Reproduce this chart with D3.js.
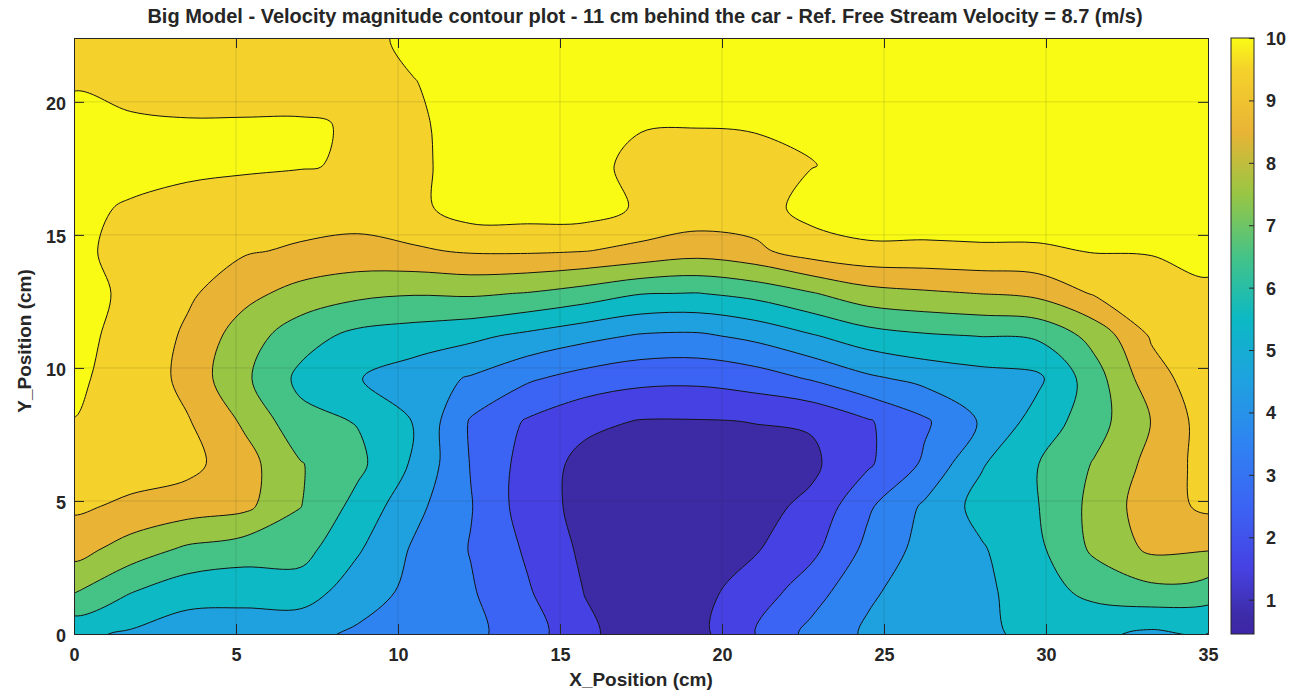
<!DOCTYPE html>
<html>
<head>
<meta charset="utf-8">
<script src="https://cdn.jsdelivr.net/npm/d3@7"></script>
<style>
  body { margin: 0; background: #ffffff; }
  text { font-family: "Liberation Sans", Arial, Helvetica, sans-serif; font-weight: bold; fill: #262626; }
</style>
</head>
<body>
<svg id="chart" width="1292" height="697"></svg>
<script>
// Measurement stations (cm)
const xStations = [0, 1.75, 3.5, 5.25, 7, 8.75, 10.5, 12.25, 14, 15.75, 17.5, 19.25, 21, 22.75, 24.5, 26.25, 28, 29.75, 31.5, 33.25, 35];
const yStations = [0, 1.6, 3.2, 4.8, 6.4, 8.0, 9.6, 11.2, 12.8, 14.4, 16.0, 17.6, 19.2, 20.8, 22.4];

// Velocity magnitude (m/s) along each vertical traverse, listed from y = 0 upward
const prof00 = [5.2, 7.07, 8.40, 9.16, 9.57, 9.995, 10.05, 10.07, 10.15, 10.05, 10.1, 10.2, 10.15, 9.95, 9.85];   // x = 0
const prof01 = [4.87, 6.05, 7.56, 8.82, 9.45, 9.75, 9.88, 9.92, 9.92, 9.93, 9.955, 10.15, 10.15, 9.6, 9.7];        // x = 1.75
const prof02 = [4.47, 5.41, 6.84, 8.51, 9.3, 9.08, 8.65, 8.8, 9.18, 9.49, 9.81, 10.12, 10.05, 9.65, 9.7];          // x = 3.5
const prof03 = [4.46, 5.34, 6.49, 8.25, 8.4, 7.85, 7.2, 7.5, 8.3, 9.1, 9.63, 10.1, 10.05, 9.69, 9.75];             // x = 5.25
const prof04 = [4.27, 5.5, 6.38, 7.02, 7.05, 6.3, 5.75, 6.4, 7.64, 8.87, 9.47, 10.05, 10.06, 9.66, 9.72];          // x = 7
const prof05 = [3.85, 4.49, 5.12, 5.68, 6.25, 5.95, 5.05, 5.73, 7.24, 8.73, 9.4, 9.92, 9.95, 9.8, 9.8];            // x = 8.75
const prof06 = [3.58, 3.75, 3.87, 4.29, 4.85, 4.95, 4.5, 5.5, 7.07, 8.88, 9.73, 9.9, 9.92, 9.99, 10.15];           // x = 10.5
const prof07 = [3.23, 3.1, 2.95, 3.05, 2.95, 2.9, 3.9, 5.22, 7.14, 9.11, 10.5, 10.2, 10.2, 10.2, 10.2];            // x = 12.25
const prof08 = [2.5, 2.1, 1.85, 1.5, 1.6, 1.9, 3.14, 4.77, 6.95, 9.13, 10.5, 10.25, 10.2, 10.2, 10.2];             // x = 14
const prof09 = [1.18, 0.98, 0.8, 0.7, 0.7, 1.25, 2.61, 4.29, 6.56, 9.03, 10.5, 10.2, 10.2, 10.2, 10.2];            // x = 15.75
const prof10 = [0.55, 0.5, 0.47, 0.46, 0.55, 0.95, 2.28, 3.89, 6.04, 8.76, 9.85, 9.82, 10.05, 10.2, 10.2];         // x = 17.5
const prof11 = [0.7, 0.7, 0.55, 0.5, 0.55, 0.95, 2.23, 3.83, 5.97, 8.43, 9.65, 9.85, 10.02, 10.2, 10.2];           // x = 19.25
const prof12 = [1.98, 1.45, 0.9, 0.7, 0.7, 1.02, 2.5, 4.24, 6.3, 8.78, 9.55, 9.8, 10.06, 10.2, 10.2];              // x = 21
const prof13 = [3.3, 2.53, 1.72, 1.2, 0.8, 1.1, 3.08, 4.9, 6.92, 9.5, 10.35, 9.97, 10.15, 10.2, 10.2];             // x = 22.75
const prof14 = [4.15, 3.85, 3.25, 2.85, 1.85, 1.9, 3.81, 5.56, 7.62, 9.8, 10.6, 10.25, 10.2, 10.2, 10.2];          // x = 24.5
const prof15 = [4.55, 4.45, 4.35, 4.15, 3.15, 2.85, 4.29, 5.87, 7.85, 9.79, 10.6, 10.25, 10.2, 10.2, 10.2];        // x = 26.25
const prof16 = [4.7, 4.75, 4.9, 5.35, 4.9, 4.1, 4.6, 6.02, 8.02, 9.85, 10.6, 10.25, 10.2, 10.2, 10.2];             // x = 28
const prof17 = [5.4, 5.6, 5.8, 5.97, 5.98, 5.4, 4.8, 6.15, 8.25, 9.86, 10.6, 10.25, 10.2, 10.2, 10.2];             // x = 29.75
const prof18 = [5.2, 6.28, 7.2, 7.3, 7.08, 6.58, 6.57, 7.34, 9.1, 10.05, 10.3, 10.25, 10.2, 10.2, 10.2];           // x = 31.5
const prof19 = [4.8, 6.69, 8.2, 8.54, 8.29, 8.02, 8.6, 9.1, 9.6, 10.05, 10.3, 10.25, 10.2, 10.2, 10.2];            // x = 33.25
const prof20 = [4.98, 6.48, 8.08, 9.2, 9.4, 9.5, 9.6, 9.75, 9.92, 10.13, 10.2, 10.2, 10.2, 10.2, 10.2];            // x = 35
const profiles = [prof00, prof01, prof02, prof03, prof04, prof05, prof06, prof07, prof08, prof09, prof10,
                  prof11, prof12, prof13, prof14, prof15, prof16, prof17, prof18, prof19, prof20];

// Contour levels and colour limits (m/s)
const levels = [1, 2, 3, 4, 5, 6, 7, 8, 9, 10];
const colorLimits = [0.45, 10];

// Axis ticks
const xTicks = [0, 5, 10, 15, 20, 25, 30, 35];
const yTicks = [0, 5, 10, 15, 20];
const colorbarTicks = [1, 2, 3, 4, 5, 6, 7, 8, 9, 10];

// Parula-like fill for each band: below the first level, then one per level
const bandColors = ["#3d2ba6", "#4641e2", "#3b64f4", "#2f83f1", "#1fa1e0", "#0cb9c4",
                    "#45c387", "#98c644", "#e9b435", "#f5d22b", "#f9fb15"];

const titleText = "Big Model - Velocity magnitude contour plot - 11 cm behind the car - Ref. Free Stream Velocity = 8.7 (m/s)";

// ---------------------------------------------------------------------------
const svg = d3.select("#chart");
const plot = { left: 74, right: 1208, top: 38, bottom: 634 };

const x = d3.scaleLinear().domain([0, 35]).range([plot.left, plot.right]);
const y = d3.scaleLinear().domain([0, 22.4]).range([plot.bottom, plot.top]);

// Row-major grid for d3.contours (row j = yStations[j])
const nx = xStations.length, ny = yStations.length;
const grid = new Array(nx * ny);
for (let j = 0; j < ny; j++) for (let i = 0; i < nx; i++) grid[j * nx + i] = profiles[i][j];

const dxs = xStations[1] - xStations[0];
const dys = yStations[1] - yStations[0];
// d3.contours places sample i at grid coordinate i + 0.5
const toScreen = ([gx, gy]) => [x(xStations[0] + (gx - 0.5) * dxs), y(yStations[0] + (gy - 0.5) * dys)];

const contours = d3.contours().size([nx, ny]).thresholds(levels)(grid);

// each ring drawn as a smooth closed curve through the marching-squares vertices
const ringLine = d3.line().curve(d3.curveCatmullRomClosed.alpha(0.5));
const contourPath = multi => multi.coordinates
  .map(polygon => polygon.map(ring => ringLine(ring.slice(0, -1).map(toScreen))).join(""))
  .join("");

svg.append("defs").append("clipPath").attr("id", "plotClip")
  .append("rect")
  .attr("x", plot.left).attr("y", plot.top)
  .attr("width", plot.right - plot.left).attr("height", plot.bottom - plot.top);

const field = svg.append("g").attr("clip-path", "url(#plotClip)");

// lowest band underneath everything
field.append("rect")
  .attr("x", plot.left).attr("y", plot.top)
  .attr("width", plot.right - plot.left).attr("height", plot.bottom - plot.top)
  .attr("fill", bandColors[0]);

field.selectAll("path.band")
  .data(contours)
  .join("path")
  .attr("class", "band")
  .attr("d", contourPath)
  .attr("fill", (d, i) => bandColors[i + 1])
  .attr("fill-rule", "evenodd")
  .attr("stroke", "none");

field.selectAll("path.iso")
  .data(contours)
  .join("path")
  .attr("class", "iso")
  .attr("d", contourPath)
  .attr("fill", "none")
  .attr("stroke", "#141414")
  .attr("stroke-width", 1)
  .attr("stroke-linejoin", "round");

// grid lines
const gridG = svg.append("g").attr("stroke", "#262626").attr("stroke-opacity", 0.15).attr("stroke-width", 1);
xTicks.slice(1, -1).forEach(t => {
  gridG.append("line").attr("x1", x(t)).attr("x2", x(t)).attr("y1", plot.top).attr("y2", plot.bottom);
});
yTicks.slice(1).forEach(t => {
  gridG.append("line").attr("x1", plot.left).attr("x2", plot.right).attr("y1", y(t)).attr("y2", y(t));
});

// axes: ticks pointing inward on all four sides
const tickLen = 10;
const axisBottom = svg.append("g").attr("transform", `translate(0,${plot.bottom})`)
  .call(d3.axisBottom(x).tickValues(xTicks).tickSize(-tickLen).tickPadding(14).tickFormat(d3.format("d")));
const axisTop = svg.append("g").attr("transform", `translate(0,${plot.top})`)
  .call(d3.axisTop(x).tickValues(xTicks).tickSize(-tickLen).tickFormat(""));
const axisLeft = svg.append("g").attr("transform", `translate(${plot.left},0)`)
  .call(d3.axisLeft(y).tickValues(yTicks).tickSize(-tickLen).tickPadding(8).tickFormat(d3.format("d")));
const axisRight = svg.append("g").attr("transform", `translate(${plot.right},0)`)
  .call(d3.axisRight(y).tickValues(yTicks).tickSize(-tickLen).tickFormat(""));

[axisBottom, axisTop, axisLeft, axisRight].forEach(g => {
  g.select(".domain").attr("stroke", "#262626").attr("stroke-width", 1);
  g.selectAll(".tick line").attr("stroke", "#262626").attr("stroke-width", 1);
  g.selectAll(".tick text").style("font-size", "18px").attr("fill", "#262626");
});
axisLeft.selectAll(".tick text").attr("dy", "0.42em");

// title and axis labels
svg.append("text")
  .attr("x", 645).attr("y", 23)
  .attr("text-anchor", "middle")
  .style("font-size", "20px")
  .text(titleText);

svg.append("text")
  .attr("x", (plot.left + plot.right) / 2).attr("y", 686)
  .attr("text-anchor", "middle")
  .style("font-size", "19px")
  .text("X_Position (cm)");

svg.append("text")
  .attr("transform", `translate(31,${(plot.top + plot.bottom) / 2 + 5}) rotate(-90)`)
  .attr("text-anchor", "middle")
  .style("font-size", "19px")
  .text("Y_Position (cm)");

// colorbar
const cb = { left: 1231, width: 23, top: 38, bottom: 634 };
const cbScale = d3.scaleLinear().domain(colorLimits).range([cb.bottom, cb.top]);

const cmapValues = [colorLimits[0], 0.725, 1.5, 2.5, 3.5, 4.5, 5.5, 6.5, 7.5, 8.5, 9.5, colorLimits[1]];
const cmapColors = ["#3e26a8", bandColors[0], bandColors[1], bandColors[2], bandColors[3], bandColors[4],
                    bandColors[5], bandColors[6], bandColors[7], bandColors[8], bandColors[9], bandColors[10]];

const grad = svg.select("defs").append("linearGradient")
  .attr("id", "cbGrad").attr("x1", 0).attr("y1", 1).attr("x2", 0).attr("y2", 0);
grad.selectAll("stop")
  .data(cmapValues.map((v, i) => ({ v, c: cmapColors[i] })))
  .join("stop")
  .attr("offset", d => (d.v - colorLimits[0]) / (colorLimits[1] - colorLimits[0]))
  .attr("stop-color", d => d.c);

svg.append("rect")
  .attr("x", cb.left).attr("y", cb.top)
  .attr("width", cb.width).attr("height", cb.bottom - cb.top)
  .attr("fill", "url(#cbGrad)")
  .attr("stroke", "#262626").attr("stroke-width", 1);

const cbAxis = svg.append("g").attr("transform", `translate(${cb.left + cb.width},0)`)
  .call(d3.axisRight(cbScale).tickValues(colorbarTicks).tickSize(-5).tickPadding(12).tickFormat(d3.format("d")));
cbAxis.select(".domain").remove();
cbAxis.selectAll(".tick line").attr("stroke", "#262626");
cbAxis.selectAll(".tick text").style("font-size", "18px").attr("fill", "#262626").attr("dy", "0.36em");
</script>
</body>
</html>
